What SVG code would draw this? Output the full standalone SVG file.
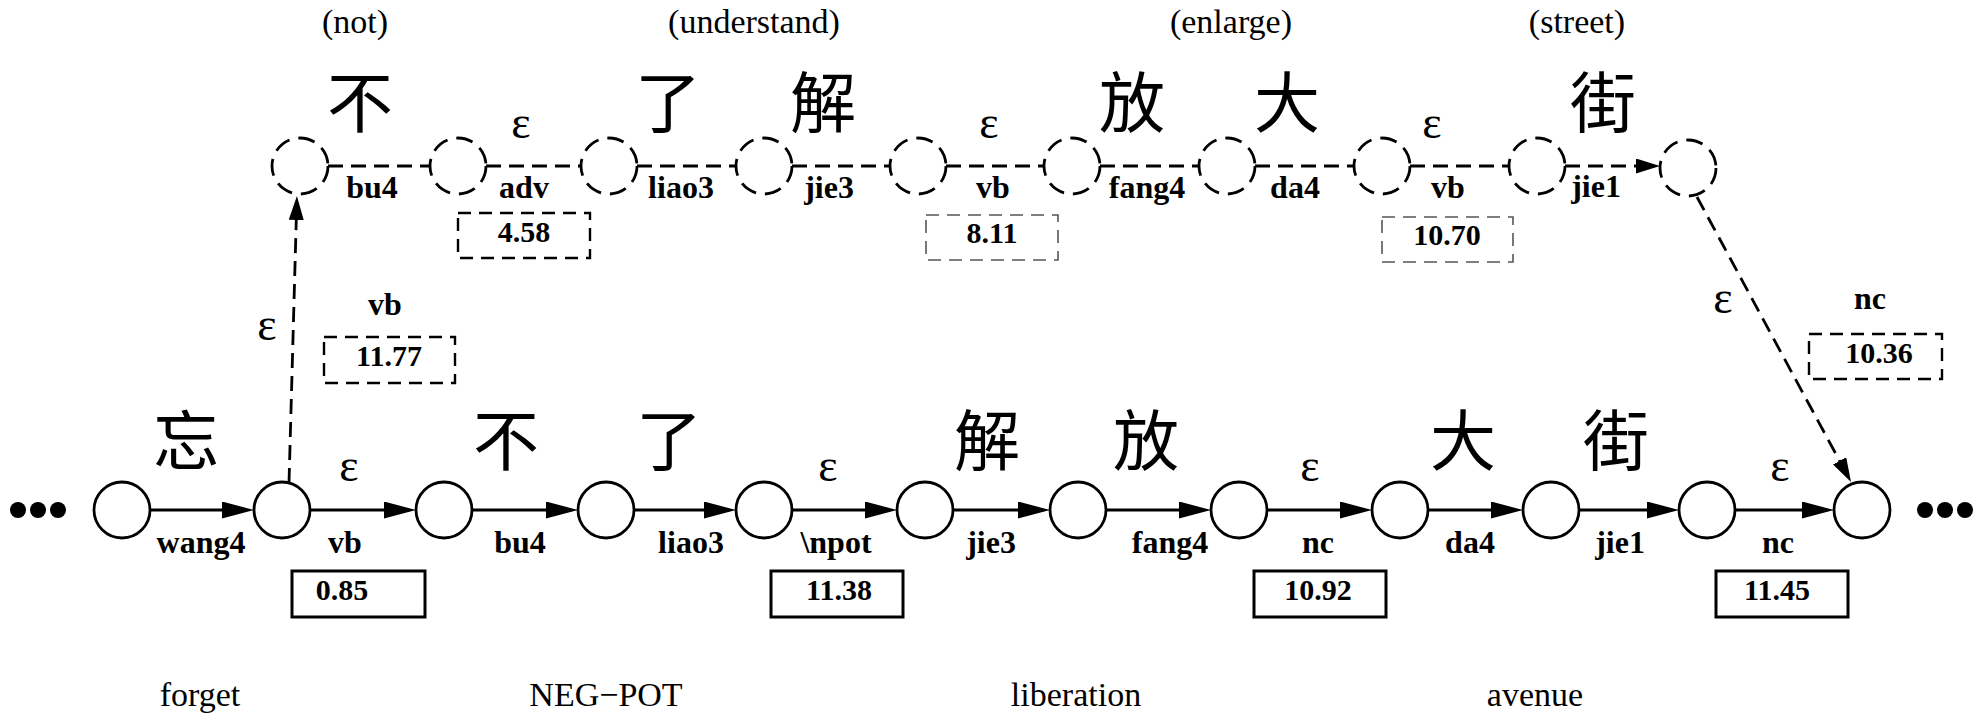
<svg xmlns="http://www.w3.org/2000/svg" width="1984" height="717" viewBox="0 0 1984 717">
<style>
.n{fill:none;stroke:#000;stroke-width:2.8}
.nd{fill:none;stroke:#000;stroke-width:2.8;stroke-dasharray:17 9}
.e{stroke:#000;stroke-width:3;fill:none}
.ed{stroke:#000;stroke-width:2.8;fill:none;stroke-dasharray:15 8}
.bx{fill:none;stroke:#000;stroke-width:3}
.bxd{fill:none;stroke:#000;stroke-width:2.4;stroke-dasharray:13 8}
.bxg{fill:none;stroke:#555;stroke-width:1.6;stroke-dasharray:13 8}
.lbl{font-family:"Liberation Serif","Times New Roman",serif;font-weight:bold;font-size:32px;text-anchor:middle;fill:#000}
.num{font-family:"Liberation Serif","Times New Roman",serif;font-weight:bold;font-size:30px;text-anchor:middle;fill:#000}
.gl{font-family:"Liberation Serif","Times New Roman",serif;font-weight:normal;font-size:34px;text-anchor:middle;fill:#000}
.cjk{font-family:"Noto Sans CJK TC","Noto Sans CJK SC",sans-serif;font-size:66px;text-anchor:middle;fill:#000}
.eps{font-family:"Liberation Serif","Times New Roman",serif;font-size:46px;text-anchor:middle;fill:#000}
</style>
<defs>
<marker id="ah" markerWidth="32" markerHeight="17" refX="15" refY="8.5" orient="auto" markerUnits="userSpaceOnUse"><path d="M0,0 L32,8.5 L0,17 z" fill="#000"/></marker>
<marker id="ahd" markerWidth="24" markerHeight="15" refX="12" refY="7.5" orient="auto" markerUnits="userSpaceOnUse"><path d="M0,0 L24,7.5 L0,15 z" fill="#000"/></marker>
</defs>
<rect width="1984" height="717" fill="#fff"/>

<g id="connectors">
<line class="e" x1="150" y1="510" x2="237" y2="510" marker-end="url(#ah)"/>
<line class="e" x1="310" y1="510" x2="399" y2="510" marker-end="url(#ah)"/>
<line class="e" x1="472" y1="510" x2="561" y2="510" marker-end="url(#ah)"/>
<line class="e" x1="634" y1="510" x2="719" y2="510" marker-end="url(#ah)"/>
<line class="e" x1="792" y1="510" x2="880" y2="510" marker-end="url(#ah)"/>
<line class="e" x1="953" y1="510" x2="1033" y2="510" marker-end="url(#ah)"/>
<line class="e" x1="1106" y1="510" x2="1194" y2="510" marker-end="url(#ah)"/>
<line class="e" x1="1267" y1="510" x2="1355" y2="510" marker-end="url(#ah)"/>
<line class="e" x1="1428" y1="510" x2="1506" y2="510" marker-end="url(#ah)"/>
<line class="e" x1="1579" y1="510" x2="1662" y2="510" marker-end="url(#ah)"/>
<line class="e" x1="1735" y1="510" x2="1817" y2="510" marker-end="url(#ah)"/>
<line class="ed" x1="328" y1="166" x2="430" y2="166"/>
<line class="ed" x1="486" y1="166" x2="581" y2="166"/>
<line class="ed" x1="637" y1="166" x2="736" y2="166"/>
<line class="ed" x1="792" y1="166" x2="890" y2="166"/>
<line class="ed" x1="946" y1="166" x2="1044" y2="166"/>
<line class="ed" x1="1100" y1="166" x2="1199" y2="166"/>
<line class="ed" x1="1255" y1="166" x2="1354" y2="166"/>
<line class="ed" x1="1410" y1="166" x2="1509" y2="166"/>
<line class="ed" x1="1565" y1="166" x2="1648" y2="166" marker-end="url(#ahd)"/>
<line class="ed" x1="289" y1="483" x2="296.6" y2="208" marker-end="url(#ahd)"/>
<line class="ed" x1="1697" y1="197" x2="1845.3" y2="471.4" marker-end="url(#ahd)"/>
</g>

<g id="dots-left"><circle cx="18" cy="510" r="8"/><circle cx="38" cy="510" r="8"/><circle cx="58" cy="510" r="8"/></g>
<g id="dots-right"><circle cx="1925" cy="510" r="8"/><circle cx="1945" cy="510" r="8"/><circle cx="1965" cy="510" r="8"/></g>

<g id="b1"><circle class="n" cx="122" cy="510" r="28"/></g>
<g id="b2"><circle class="n" cx="282" cy="510" r="28"/></g>
<g id="b3"><circle class="n" cx="444" cy="510" r="28"/></g>
<g id="b4"><circle class="n" cx="606" cy="510" r="28"/></g>
<g id="b5"><circle class="n" cx="764" cy="510" r="28"/></g>
<g id="b6"><circle class="n" cx="925" cy="510" r="28"/></g>
<g id="b7"><circle class="n" cx="1078" cy="510" r="28"/></g>
<g id="b8"><circle class="n" cx="1239" cy="510" r="28"/></g>
<g id="b9"><circle class="n" cx="1400" cy="510" r="28"/></g>
<g id="b10"><circle class="n" cx="1551" cy="510" r="28"/></g>
<g id="b11"><circle class="n" cx="1707" cy="510" r="28"/></g>
<g id="b12"><circle class="n" cx="1862" cy="510" r="28"/></g>

<g id="u1"><circle class="nd" cx="300" cy="166" r="28"/></g>
<g id="u2"><circle class="nd" cx="458" cy="166" r="28"/></g>
<g id="u3"><circle class="nd" cx="609" cy="166" r="28"/></g>
<g id="u4"><circle class="nd" cx="764" cy="166" r="28"/></g>
<g id="u5"><circle class="nd" cx="918" cy="166" r="28"/></g>
<g id="u6"><circle class="nd" cx="1072" cy="166" r="28"/></g>
<g id="u7"><circle class="nd" cx="1227" cy="166" r="28"/></g>
<g id="u8"><circle class="nd" cx="1382" cy="166" r="28"/></g>
<g id="u9"><circle class="nd" cx="1537" cy="166" r="28"/></g>
<g id="u10"><circle class="nd" cx="1688" cy="168" r="28"/></g>

<g id="glosses">
<text class="gl" x="355" y="33">(not)</text>
<text class="gl" x="754" y="33">(understand)</text>
<text class="gl" x="1231" y="33">(enlarge)</text>
<text class="gl" x="1577" y="33">(street)</text>
<text class="gl" x="200" y="706">forget</text>
<text class="gl" x="606" y="706">NEG−POT</text>
<text class="gl" x="1076" y="706">liberation</text>
<text class="gl" x="1535" y="706">avenue</text>
</g>

<g id="chars-upper">
<text class="cjk" x="360" y="127">不</text>
<text class="cjk" x="668" y="127">了</text>
<text class="cjk" x="823" y="127">解</text>
<text class="cjk" x="1132" y="127">放</text>
<text class="cjk" x="1287" y="127">大</text>
<text class="cjk" x="1603" y="127">街</text>
</g>
<g id="chars-lower">
<text class="cjk" x="186" y="465">忘</text>
<text class="cjk" x="506" y="465">不</text>
<text class="cjk" x="669" y="465">了</text>
<text class="cjk" x="987" y="465">解</text>
<text class="cjk" x="1146" y="465">放</text>
<text class="cjk" x="1463" y="465">大</text>
<text class="cjk" x="1616" y="465">街</text>
</g>

<g id="epsilons">
<text class="eps" x="521" y="138">ε</text>
<text class="eps" x="989" y="138">ε</text>
<text class="eps" x="1432" y="138">ε</text>
<text class="eps" x="349" y="481">ε</text>
<text class="eps" x="828" y="481">ε</text>
<text class="eps" x="1310" y="481">ε</text>
<text class="eps" x="1780" y="481">ε</text>
<text class="eps" x="267" y="340">ε</text>
<text class="eps" x="1723" y="313">ε</text>
</g>

<g id="edge-labels">
<text class="lbl" x="372" y="198">bu4</text>
<text class="lbl" x="524" y="198">adv</text>
<text class="lbl" x="681" y="198">liao3</text>
<text class="lbl" x="829" y="198">jie3</text>
<text class="lbl" x="993" y="198">vb</text>
<text class="lbl" x="1147" y="198">fang4</text>
<text class="lbl" x="1295" y="198">da4</text>
<text class="lbl" x="1448" y="198">vb</text>
<text class="lbl" x="1596" y="197">jie1</text>
<text class="lbl" x="201" y="553">wang4</text>
<text class="lbl" x="345" y="553">vb</text>
<text class="lbl" x="520" y="553">bu4</text>
<text class="lbl" x="691" y="553">liao3</text>
<text class="lbl" x="836" y="553">\npot</text>
<text class="lbl" x="991" y="553">jie3</text>
<text class="lbl" x="1170" y="553">fang4</text>
<text class="lbl" x="1318" y="553">nc</text>
<text class="lbl" x="1470" y="553">da4</text>
<text class="lbl" x="1620" y="553">jie1</text>
<text class="lbl" x="1778" y="553">nc</text>
<text class="lbl" x="385" y="315">vb</text>
<text class="lbl" x="1870" y="309">nc</text>
</g>

<g id="scores">
<rect class="bx" x="292" y="571" width="133" height="46"/><text class="num" x="342" y="600">0.85</text>
<rect class="bx" x="771" y="571" width="132" height="46"/><text class="num" x="839" y="600">11.38</text>
<rect class="bx" x="1254" y="571" width="132" height="46"/><text class="num" x="1318" y="600">10.92</text>
<rect class="bx" x="1716" y="571" width="132" height="46"/><text class="num" x="1777" y="600">11.45</text>
<rect class="bxd" x="458" y="213" width="132" height="45"/><text class="num" x="524" y="242">4.58</text>
<rect class="bxg" x="926" y="215" width="132" height="45"/><text class="num" x="992" y="243">8.11</text>
<rect class="bxg" x="1382" y="217" width="131" height="45"/><text class="num" x="1447" y="245">10.70</text>
<rect class="bxd" x="324" y="337" width="131" height="46"/><text class="num" x="389" y="366">11.77</text>
<rect class="bxd" x="1809" y="334" width="133" height="45"/><text class="num" x="1879" y="363">10.36</text>
</g>
</svg>
